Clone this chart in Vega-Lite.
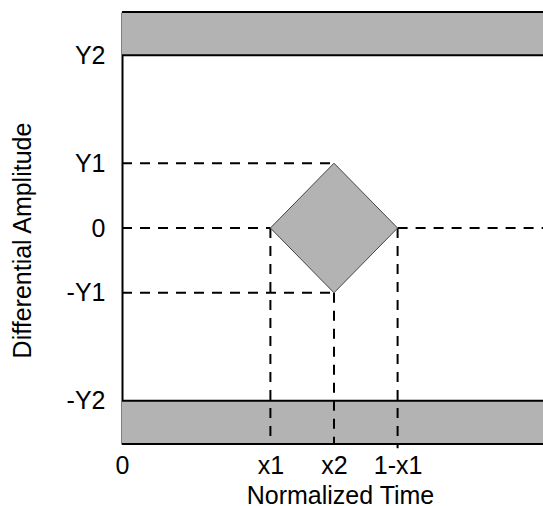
{
  "$schema": "https://vega.github.io/schema/vega-lite/v6.json",
  "width": 421,
  "height": 432,
  "autosize": "none",
  "padding": {"left": 122, "top": 12, "right": 0, "bottom": 62},
  "background": "white",
  "config": {
    "view": {"stroke": null},
    "font": "Liberation Sans"
  },
  "datasets": {
    "bands": [
      {"x0": 0, "x1": 1, "y0": 0.8, "y1": 1},
      {"x0": 0, "x1": 1, "y0": -1, "y1": -0.8}
    ],
    "edges": [
      {"x0": 0, "x1": 1, "y0": 1, "y1": 1},
      {"x0": 0, "x1": 1, "y0": 0.8, "y1": 0.8},
      {"x0": 0, "x1": 1, "y0": -0.8, "y1": -0.8},
      {"x0": 0, "x1": 1, "y0": -1, "y1": -1}
    ],
    "guides": [
      {"x0": 0, "x1": 0.5, "y0": 0.3, "y1": 0.3},
      {"x0": 0, "x1": 0.35, "y0": 0, "y1": 0},
      {"x0": 0.65, "x1": 1, "y0": 0, "y1": 0},
      {"x0": 0, "x1": 0.5, "y0": -0.3, "y1": -0.3},
      {"x0": 0.35, "x1": 0.35, "y0": 0, "y1": -1},
      {"x0": 0.5, "x1": 0.5, "y0": -0.3, "y1": -1},
      {"x0": 0.65, "x1": 0.65, "y0": 0, "y1": -1.02}
    ],
    "diamond": [
      {"t": 0.35, "top": 0, "bottom": 0},
      {"t": 0.5, "top": 0.3, "bottom": -0.3},
      {"t": 0.65, "top": 0, "bottom": 0}
    ]
  },
  "layer": [
    {
      "data": {"name": "bands"},
      "mark": {"type": "rect", "fill": "#b3b3b3", "strokeWidth": 0, "clip": false},
      "encoding": {
        "x": {
          "field": "x0", "type": "quantitative",
          "scale": {"domain": [0, 0.99292], "nice": false, "zero": false},
          "axis": {
            "values": [0, 0.35, 0.5, 0.65, 1],
            "labelExpr": "datum.value == 0 ? '0' : datum.value == 0.35 ? 'x1' : datum.value == 0.5 ? 'x2' : datum.value == 0.65 ? '1-x1' : '1'",
            "ticks": false, "domain": false, "grid": false,
            "labelFontSize": 25, "labelColor": "black", "labelPadding": 9,
            "labelFlush": false, "labelOverlap": false, "labelBound": false,
            "title": "Normalized Time", "titleFontSize": 25, "titleFontWeight": "normal",
            "titleColor": "black", "titleX": 218, "titleY": 59, "titleBaseline": "alphabetic"
          }
        },
        "x2": {"field": "x1"},
        "y": {
          "field": "y0", "type": "quantitative",
          "scale": {"domain": [-1, 1], "nice": false},
          "axis": {
            "values": [-0.8, -0.3, 0, 0.3, 0.8],
            "labelExpr": "datum.value == 0.8 ? 'Y2' : datum.value == 0.3 ? 'Y1' : datum.value == 0 ? '0' : datum.value == -0.3 ? '-Y1' : '-Y2'",
            "ticks": false, "domain": true, "domainColor": "black", "domainWidth": 2, "grid": false,
            "labelFontSize": 25, "labelColor": "black", "labelPadding": 17,
            "labelFlush": false, "labelOverlap": false,
            "title": "Differential Amplitude", "titleFontSize": 25, "titleFontWeight": "normal",
            "titleColor": "black", "titleX": -100, "titleY": 228, "titleBaseline": "middle", "titleAngle": 270
          }
        },
        "y2": {"field": "y1"}
      }
    },
    {
      "data": {"name": "guides"},
      "mark": {"type": "rule", "stroke": "black", "strokeWidth": 2, "strokeDash": [10, 8], "clip": false},
      "encoding": {
        "x": {"field": "x0", "type": "quantitative"},
        "x2": {"field": "x1"},
        "y": {"field": "y0", "type": "quantitative"},
        "y2": {"field": "y1"}
      }
    },
    {
      "data": {"name": "edges"},
      "mark": {"type": "rule", "stroke": "black", "strokeWidth": 2, "clip": false},
      "encoding": {
        "x": {"field": "x0", "type": "quantitative"},
        "x2": {"field": "x1"},
        "y": {"field": "y0", "type": "quantitative"},
        "y2": {"field": "y1"}
      }
    },
    {
      "data": {"name": "diamond"},
      "mark": {"type": "area", "fill": "#b3b3b3", "fillOpacity": 1, "stroke": "#444444", "strokeWidth": 1, "interpolate": "linear"},
      "encoding": {
        "x": {"field": "t", "type": "quantitative"},
        "y": {"field": "top", "type": "quantitative"},
        "y2": {"field": "bottom"}
      }
    }
  ]
}
